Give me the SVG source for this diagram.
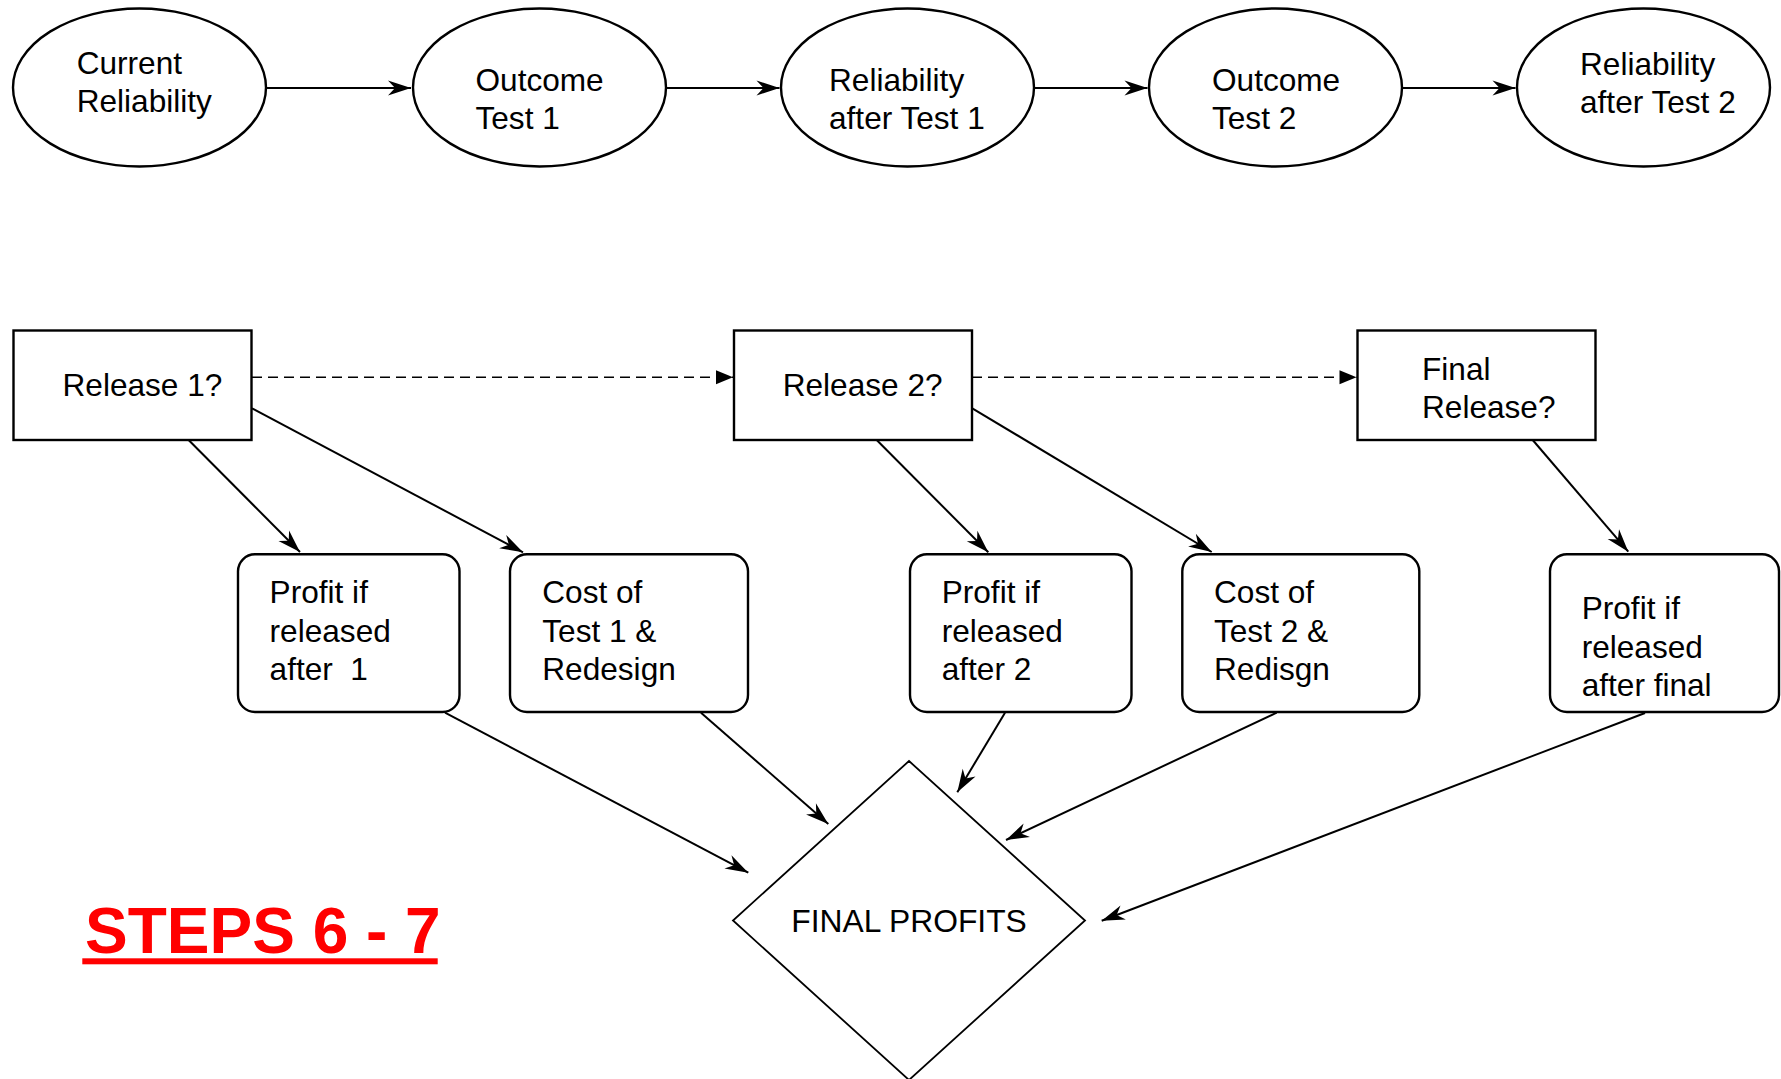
<svg xmlns="http://www.w3.org/2000/svg" width="1781" height="1079" viewBox="0 0 1781 1079">
<style>
  .n { fill: #fff; stroke: #000; stroke-width: 2.4; }
  .d { fill: #fff; stroke: #000; stroke-width: 1.8; }
  .t { font-family: "Liberation Sans", Arial, sans-serif; font-size: 31.6px; fill: #000; white-space: pre; }
  .c { fill: none; stroke: #000; stroke-width: 2; }
  .cd { fill: none; stroke: #000; stroke-width: 1.6; stroke-dasharray: 10 6; }
</style>
<defs>
  <marker id="ah" markerUnits="userSpaceOnUse" viewBox="-24 -9 25 18" refX="0" refY="0" markerWidth="25" markerHeight="18" orient="auto">
    <path d="M0,0 L-23,-7.5 L-16,0 L-23,7.5 Z" fill="#000"/>
  </marker>
  <marker id="tri" markerUnits="userSpaceOnUse" viewBox="-18 -8 19 16" refX="0" refY="0" markerWidth="19" markerHeight="16" orient="auto">
    <path d="M0,0 L-17,-7 L-17,7 Z" fill="#000"/>
  </marker>
</defs>
<rect width="1781" height="1079" fill="#fff"/>

<g id="connectors">
  <line class="c" x1="266" y1="88" x2="411" y2="88" marker-end="url(#ah)"/>
  <line class="c" x1="666" y1="88" x2="779.5" y2="88" marker-end="url(#ah)"/>
  <line class="c" x1="1034" y1="88" x2="1147.5" y2="88" marker-end="url(#ah)"/>
  <line class="c" x1="1402" y1="88" x2="1515.5" y2="88" marker-end="url(#ah)"/>

  <line class="cd" x1="252" y1="377.3" x2="733" y2="377.3" marker-end="url(#tri)"/>
  <line class="cd" x1="972" y1="377.3" x2="1356.5" y2="377.3" marker-end="url(#tri)"/>

  <line class="c" x1="188.6" y1="440" x2="300" y2="552" marker-end="url(#ah)"/>
  <line class="c" x1="252" y1="408.3" x2="523" y2="552.3" marker-end="url(#ah)"/>
  <line class="c" x1="876.7" y1="440" x2="988.3" y2="552.3" marker-end="url(#ah)"/>
  <line class="c" x1="972.3" y1="408.3" x2="1211.7" y2="552" marker-end="url(#ah)"/>
  <line class="c" x1="1532.7" y1="440" x2="1628.3" y2="551.7" marker-end="url(#ah)"/>

  <line class="c" x1="445" y1="712.7" x2="748.3" y2="872.7" marker-end="url(#ah)"/>
  <line class="c" x1="701" y1="712.7" x2="828.3" y2="824" marker-end="url(#ah)"/>
  <line class="c" x1="1005" y1="712.7" x2="957.3" y2="792.3" marker-end="url(#ah)"/>
  <line class="c" x1="1276.7" y1="712.7" x2="1006" y2="840" marker-end="url(#ah)"/>
  <line class="c" x1="1645" y1="713" x2="1101.7" y2="920.7" marker-end="url(#ah)"/>
</g>

<g id="current-reliability">
  <ellipse class="n" cx="139.5" cy="87.5" rx="126.5" ry="79"/>
  <text class="t" x="76.7" y="74">Current</text>
  <text class="t" x="76.7" y="111.7">Reliability</text>
</g>
<g id="outcome-test-1">
  <ellipse class="n" cx="539.5" cy="87.5" rx="126.5" ry="79"/>
  <text class="t" x="475.5" y="90.5">Outcome</text>
  <text class="t" x="475.5" y="128.5">Test 1</text>
</g>
<g id="reliability-after-test-1">
  <ellipse class="n" cx="907.5" cy="87.5" rx="126.5" ry="79"/>
  <text class="t" x="829" y="90.5">Reliability</text>
  <text class="t" x="829" y="128.5">after Test 1</text>
</g>
<g id="outcome-test-2">
  <ellipse class="n" cx="1275.5" cy="87.5" rx="126.5" ry="79"/>
  <text class="t" x="1212" y="90.5">Outcome</text>
  <text class="t" x="1212" y="128.5">Test 2</text>
</g>
<g id="reliability-after-test-2">
  <ellipse class="n" cx="1643.5" cy="87.5" rx="126.5" ry="79"/>
  <text class="t" x="1580" y="75">Reliability</text>
  <text class="t" x="1580" y="113">after Test 2</text>
</g>

<g id="release-1">
  <rect class="n" x="13.5" y="330.5" width="238" height="109.5"/>
  <text class="t" x="62.5" y="396">Release 1?</text>
</g>
<g id="release-2">
  <rect class="n" x="734" y="330.5" width="238" height="109.5"/>
  <text class="t" x="782.7" y="396">Release 2?</text>
</g>
<g id="final-release">
  <rect class="n" x="1357.5" y="330.5" width="238" height="109.5"/>
  <text class="t" x="1422" y="380">Final</text>
  <text class="t" x="1422" y="417.7">Release?</text>
</g>

<g id="profit-after-1">
  <rect class="n" x="238" y="554.3" width="221.5" height="157.7" rx="17" ry="17"/>
  <text class="t" x="269.6" y="603.3">Profit if</text>
  <text class="t" x="269.6" y="641.7">released</text>
  <text class="t" x="269.6" y="680">after  1</text>
</g>
<g id="cost-test-1">
  <rect class="n" x="510" y="554.3" width="238" height="157.7" rx="17" ry="17"/>
  <text class="t" x="542.3" y="603.3">Cost of</text>
  <text class="t" x="542.3" y="641.7">Test 1 &amp;</text>
  <text class="t" x="542.3" y="680">Redesign</text>
</g>
<g id="profit-after-2">
  <rect class="n" x="910" y="554.3" width="221.5" height="157.7" rx="17" ry="17"/>
  <text class="t" x="941.7" y="603.3">Profit if</text>
  <text class="t" x="941.7" y="641.7">released</text>
  <text class="t" x="941.7" y="680">after 2</text>
</g>
<g id="cost-test-2">
  <rect class="n" x="1182.3" y="554.3" width="237" height="157.7" rx="17" ry="17"/>
  <text class="t" x="1214" y="603.3">Cost of</text>
  <text class="t" x="1214" y="641.7">Test 2 &amp;</text>
  <text class="t" x="1214" y="680">Redisgn</text>
</g>
<g id="profit-after-final">
  <rect class="n" x="1550" y="554.3" width="229" height="157.7" rx="17" ry="17"/>
  <text class="t" x="1581.7" y="619">Profit if</text>
  <text class="t" x="1581.7" y="657.7">released</text>
  <text class="t" x="1581.7" y="696">after final</text>
</g>

<g id="final-profits">
  <polygon class="d" points="909,761 1085,920.5 909,1080 733,920.5"/>
  <text class="t" x="909" y="932.3" text-anchor="middle" style="font-size:31.8px">FINAL PROFITS</text>
</g>

<g id="steps-title">
  <text x="85" y="952.7" style="font-family:'Liberation Sans', Arial, sans-serif; font-size:64px; font-weight:bold; fill:#ff0000;">STEPS 6 - 7</text>
  <rect x="82.3" y="958.3" width="355.4" height="6" fill="#ff0000"/>
</g>
</svg>
